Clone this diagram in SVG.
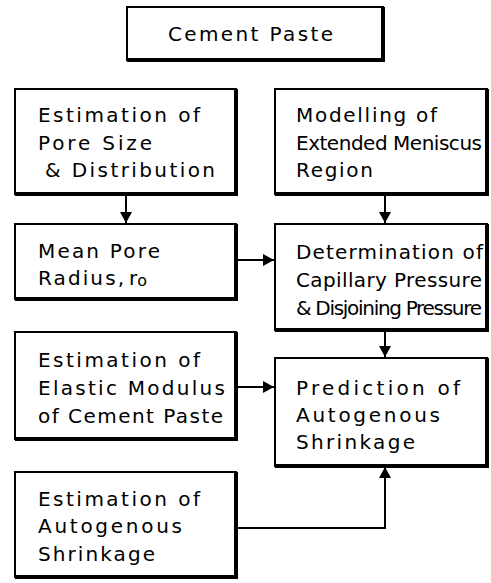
<svg xmlns="http://www.w3.org/2000/svg" width="491" height="583" viewBox="0 0 491 583">
<defs>
<style>
.box{fill:#fff;stroke:#000;stroke-width:2}
.sh{fill:none;stroke:#000;stroke-width:4}
.t{font-family:"DejaVu Sans","Liberation Sans",sans-serif;font-size:20px;fill:#000}
.c{fill:none;stroke:#000;stroke-width:2}
</style>
<marker id="ah" markerUnits="userSpaceOnUse" markerWidth="12" markerHeight="12" refX="11" refY="6" orient="auto">
<path d="M0,0 L11,6 L0,12 Z" fill="#000"/>
</marker>
</defs>
<rect width="491" height="583" fill="#fff"/>
<g id="cement-paste">
<rect class="box" x="127" y="7" width="256" height="53"/>
<path class="sh" d="M383,7 V60 H127"/>
<text class="t" x="168" y="41" textLength="165" lengthAdjust="spacing">Cement Paste</text>
</g>
<g id="pore-size">
<rect class="box" x="15" y="89" width="221" height="105"/>
<path class="sh" d="M236,89 V194 H15"/>
<text class="t" x="38" y="122" textLength="162" lengthAdjust="spacing">Estimation of</text>
<text class="t" x="38" y="150" textLength="114" lengthAdjust="spacing">Pore Size</text>
<text class="t" x="45" y="177" textLength="170" lengthAdjust="spacing">&amp; Distribution</text>
</g>
<g id="meniscus">
<rect class="box" x="275" y="89" width="212" height="105"/>
<path class="sh" d="M487,89 V194 H275"/>
<text class="t" x="296" y="122" textLength="141" lengthAdjust="spacing">Modelling of</text>
<text class="t" x="296" y="150" textLength="186" lengthAdjust="spacing">Extended Meniscus</text>
<text class="t" x="296" y="177" textLength="77" lengthAdjust="spacing">Region</text>
</g>
<g id="mean-pore">
<rect class="box" x="15" y="224" width="221" height="75"/>
<path class="sh" d="M236,224 V299 H15"/>
<text class="t" x="38" y="258" textLength="122" lengthAdjust="spacing">Mean Pore</text>
<text class="t" x="38" y="285" textLength="86" lengthAdjust="spacing">Radius,</text>
<text class="t" x="129" y="285">r<tspan font-size="16" dy="1">o</tspan></text>
</g>
<g id="pressure">
<rect class="box" x="275" y="224" width="212" height="106"/>
<path class="sh" d="M487,224 V330 H275"/>
<text class="t" x="296" y="259" textLength="187" lengthAdjust="spacing">Determination of</text>
<text class="t" x="296" y="287" textLength="186" lengthAdjust="spacing">Capillary Pressure</text>
<text class="t" x="296" y="315" textLength="186" lengthAdjust="spacing">&amp; Disjoining Pressure</text>
</g>
<g id="elastic">
<rect class="box" x="15" y="332" width="221" height="107"/>
<path class="sh" d="M236,332 V439 H15"/>
<text class="t" x="38" y="367" textLength="162" lengthAdjust="spacing">Estimation of</text>
<text class="t" x="38" y="395" textLength="187" lengthAdjust="spacing">Elastic Modulus</text>
<text class="t" x="38" y="423" textLength="185" lengthAdjust="spacing">of Cement Paste</text>
</g>
<g id="prediction">
<rect class="box" x="275" y="358" width="212" height="108"/>
<path class="sh" d="M487,358 V466 H275"/>
<text class="t" x="296" y="395" textLength="164" lengthAdjust="spacing">Prediction of</text>
<text class="t" x="296" y="422" textLength="144" lengthAdjust="spacing">Autogenous</text>
<text class="t" x="296" y="449" textLength="119" lengthAdjust="spacing">Shrinkage</text>
</g>
<g id="estimation-shrinkage">
<rect class="box" x="15" y="472" width="221" height="105"/>
<path class="sh" d="M236,472 V577 H15"/>
<text class="t" x="38" y="506" textLength="162" lengthAdjust="spacing">Estimation of</text>
<text class="t" x="38" y="533" textLength="144" lengthAdjust="spacing">Autogenous</text>
<text class="t" x="38" y="561" textLength="117" lengthAdjust="spacing">Shrinkage</text>
</g>
<g id="connectors">
<path class="c" d="M126,196 V223" marker-end="url(#ah)"/>
<path class="c" d="M385,196 V223" marker-end="url(#ah)"/>
<path class="c" d="M238,260 H274" marker-end="url(#ah)"/>
<path class="c" d="M385,332 V357" marker-end="url(#ah)"/>
<path class="c" d="M238,387 H274" marker-end="url(#ah)"/>
<path class="c" d="M238,528 H385 V467" marker-end="url(#ah)"/>
</g>
</svg>
